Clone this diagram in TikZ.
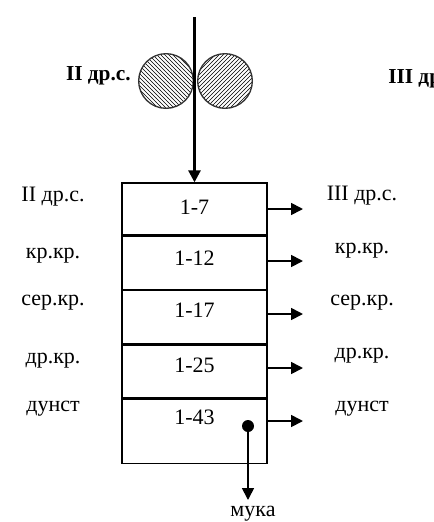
\documentclass[tikz,border=0pt]{standalone}
\usepackage{fontspec}
\setmainfont{Liberation Serif}
\usetikzlibrary{arrows.meta,patterns}
\begin{document}
\begin{tikzpicture}[x=0.75pt,y=-0.75pt,
  lbl/.style={font=\fontsize{16.5}{19}\selectfont, inner sep=0pt},
  blbl/.style={font=\fontsize{16}{19}\selectfont\bfseries, inner sep=0pt},
  row/.style={draw, line width=1pt, minimum width=108.75pt, inner sep=0pt},
  roll/.style={draw=black!80, line width=1pt, circle, minimum size=41pt, inner sep=0pt},
  outarr/.style={line width=1.3pt, -{Triangle[length=9pt,width=9pt]}},
  mainarr/.style={line width=2pt, -{Triangle[length=9pt,width=9pt]}}]
\useasboundingbox (0,0) rectangle (433,522);
% rolls
\node[roll, pattern=north west lines] (rollL) at (166,81) {};
\node[roll, pattern=north east lines] (rollR) at (225,81) {};
\node[blbl, anchor=east] (topL) at (131,76) {II др.с.};
\node[blbl, anchor=west] (topR) at (388,79) {III др.с.};
% sieve box rows
\node[row, minimum height=39pt] (r1) at (194.5,209) {};
\node[row, minimum height=39.75pt, anchor=north] (r2) at (r1.south) {};
\node[row, minimum height=39.75pt, anchor=north] (r3) at (r2.south) {};
\node[row, minimum height=39.75pt, anchor=north] (r4) at (r3.south) {};
\node[row, minimum height=48pt, anchor=north] (r5) at (r4.south) {};
\node[lbl] (n1) at (194.5,207) {1-7};
\node[lbl] (n2) at (194.5,258) {1-12};
\node[lbl] (n3) at (194.5,310) {1-17};
\node[lbl] (n4) at (194.5,365) {1-25};
\node[lbl] (n5) at (194.5,417) {1-43};
% main feed arrow
\coordinate (feed) at (194.5,17);
\draw[mainarr] (feed) -- (r1.north);
% left labels
\node[lbl] (l1) at (53,197) {II др.с.};
\node[lbl] (l2) at (53,256) {кр.кр.};
\node[lbl] (l3) at (53,303) {сер.кр.};
\node[lbl] (l4) at (53,361) {др.кр.};
\node[lbl] (l5) at (53,409) {дунст};
% right labels
\node[lbl] (q1) at (362,196) {III др.с.};
\node[lbl] (q2) at (362,251) {кр.кр.};
\node[lbl] (q3) at (362,303) {сер.кр.};
\node[lbl] (q4) at (362,356) {др.кр.};
\node[lbl] (q5) at (362,409) {дунст};
% output arrows
\coordinate (e1) at (303,209);
\coordinate (e2) at (303,261);
\coordinate (e3) at (303,314);
\coordinate (e4) at (303,368);
\coordinate (e5) at (303,421);
\draw[outarr] (r1.east |- e1) -- (e1);
\draw[outarr] (r2.east |- e2) -- (e2);
\draw[outarr] (r3.east |- e3) -- (e3);
\draw[outarr] (r4.east |- e4) -- (e4);
\draw[outarr] (r5.east |- e5) -- (e5);
% flour outlet
\node[circle, fill=black, minimum size=9pt, inner sep=0pt] (dot) at (248,426) {};
\coordinate (fl) at (248,500);
\draw[outarr] (dot.center) -- (fl);
\node[lbl] (muka) at (253,514) {мука};
\end{tikzpicture}
\end{document}
